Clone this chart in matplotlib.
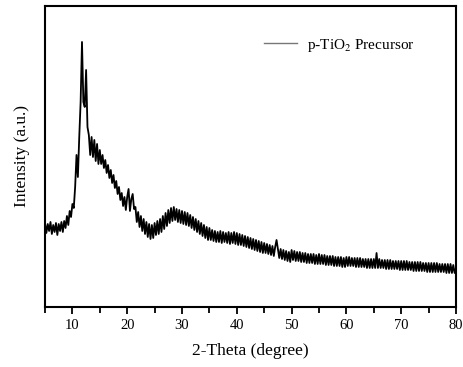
import numpy as np
import matplotlib.pyplot as plt
from matplotlib.ticker import MultipleLocator

plt.rcParams['font.family'] = ['Liberation Serif', 'DejaVu Serif']
plt.rcParams['mathtext.fontset'] = 'stix'

# 2-theta grid, 0.25 degree steps from 5 to 80
two_theta = np.arange(5, 80.001, 0.25)

# intensity (a.u.), 20 points (5 degrees) per row
intensity = np.array([
    84, 74, 83, 76, 85, 73, 82, 75, 84, 72, 83, 76, 85, 75, 86, 79, 91, 82, 96, 90,
    103, 99, 120, 152, 130, 170, 205, 265, 205, 200, 237, 180, 172, 152, 170, 150, 167, 146, 163, 143,
    157, 143, 152, 139, 147, 134, 142, 129, 137, 124, 132, 119, 126, 113, 120, 107, 114, 101, 110, 97,
    110, 118, 96, 108, 113, 98, 100, 85, 95, 80, 91, 76, 88, 73, 85, 70, 83, 68, 82, 69,
    84, 72, 86, 73, 88, 75, 91, 78, 94, 81, 97, 84, 99, 86, 100, 87, 98, 85, 97, 84,
    96, 83, 95, 82, 94, 81, 92, 79, 90, 77, 88, 75, 86, 73, 84, 71, 82, 69, 80, 67,
    79, 67, 77, 66, 76, 65, 75, 65, 76, 64, 75, 65, 74, 64, 75, 63, 74, 64, 75, 63,
    74, 62, 73, 62, 72, 61, 71, 60, 70, 59, 69, 58, 68, 57, 67, 56, 66, 55, 65, 54,
    64, 54, 63, 53, 62, 52, 61, 51, 60, 67, 58, 49, 58, 48, 57, 47, 56, 46, 55, 45,
    57, 47, 56, 46, 55, 46, 55, 45, 54, 45, 54, 44, 53, 44, 53, 44, 53, 43, 52, 43,
    53, 43, 52, 43, 52, 42, 51, 42, 51, 42, 51, 41, 50, 41, 50, 41, 50, 40, 49, 40,
    50, 41, 50, 41, 49, 41, 49, 40, 49, 40, 49, 40, 48, 40, 48, 39, 48, 39, 48, 39,
    48, 39, 54, 39, 48, 39, 47, 39, 47, 38, 47, 38, 47, 38, 46, 38, 46, 38, 46, 37,
    46, 37, 46, 37, 46, 37, 45, 37, 45, 36, 45, 36, 45, 36, 45, 36, 44, 36, 44, 35,
    44, 35, 44, 35, 44, 35, 44, 35, 43, 35, 43, 35, 43, 34, 43, 34, 43, 34, 42, 34,
    39,
])

fig = plt.figure(figsize=(4.63, 3.67), dpi=100)
ax = fig.add_axes([0.0972, 0.1635, 0.8877, 0.8202])

ax.plot(two_theta, intensity, color='black', lw=1.3, label='p-TiO$_2$ Precursor')

ax.set_xlim(5, 80)
ax.set_ylim(0, 301)
ax.xaxis.set_major_locator(MultipleLocator(10))
ax.xaxis.set_minor_locator(MultipleLocator(5))
ax.tick_params(axis='x', which='both', direction='out', width=1.3, labelsize=10.5)
ax.tick_params(axis='x', which='major', length=5)
ax.tick_params(axis='x', which='minor', length=4)
ax.set_yticks([])
for s in ax.spines.values():
    s.set_linewidth(1.5)

ax.set_xlabel('2-Theta (degree)', fontsize=12.5, labelpad=8)
ax.set_ylabel('Intensity (a.u.)', fontsize=12.5, labelpad=11)

leg = ax.legend(loc='center right', frameon=False, fontsize=11, handlelength=2.2,
                handletextpad=0.6, bbox_to_anchor=(0.932, 0.87))
for h in leg.get_lines():
    h.set_color('#777777')
    h.set_linewidth(1.0)

fig.savefig('out.png', dpi=100)
